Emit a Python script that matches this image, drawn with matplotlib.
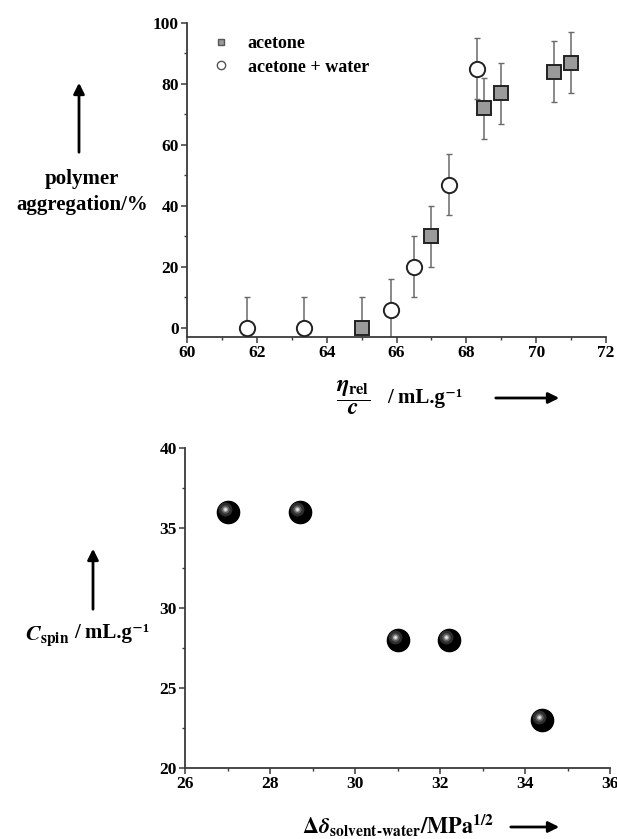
import matplotlib
matplotlib.use("Agg")
import matplotlib.pyplot as plt
import matplotlib.transforms as mtransforms
from matplotlib.lines import Line2D
from matplotlib.ticker import MultipleLocator

plt.rcParams["font.family"] = ["Liberation Serif", "DejaVu Serif"]
plt.rcParams["font.weight"] = "bold"
plt.rcParams["mathtext.fontset"] = "stix"

# top panel: aggregation vs reduced viscosity
acetone_x = [65.0, 67.0, 68.5, 69.0, 70.5, 71.0]
acetone_y = [0, 30, 72, 77, 84, 87]
acetone_err = [10, 10, 10, 10, 10, 10]

water_x = [61.73, 63.36, 65.85, 66.5, 67.5, 68.3]
water_y = [0, 0, 6, 20, 47, 85]
water_err = [10, 10, 10, 10, 10, 10]

# bottom panel: spinning concentration vs solubility parameter difference
delta_x = [27.0, 28.7, 31.0, 32.2, 34.4]
cspin_y = [36, 36, 28, 28, 23]

W, H = 617, 839
SPINE = "#3a3a3a"
TICK_SIZE = 12.5
UNIT = "/ mL.g\u207b\u00b9"


def fx(px):
    return px / W


def fy(py):
    return 1 - py / H


def style_axes(ax):
    for side in ("top", "right"):
        ax.spines[side].set_visible(False)
    for side in ("left", "bottom"):
        ax.spines[side].set_color(SPINE)
        ax.spines[side].set_linewidth(1.3)
    ax.tick_params(which="major", direction="out", length=4, width=1.1,
                   color=SPINE, labelsize=TICK_SIZE, pad=2)
    ax.tick_params(which="minor", direction="out", length=2.5, width=1.0,
                   color=SPINE)
    for lab in ax.get_xticklabels() + ax.get_yticklabels():
        lab.set_fontweight("bold")


def fig_arrow(fig, x0, y0, x1, y1):
    fig.add_artist(matplotlib.patches.FancyArrowPatch(
        (fx(x0), fy(y0)), (fx(x1), fy(y1)), transform=fig.transFigure,
        arrowstyle="-|>", mutation_scale=16, lw=2.0, color="black"))


fig = plt.figure(figsize=(W / 100, H / 100), dpi=100)

# ---- top panel
ax1 = fig.add_axes([fx(187), fy(337), fx(606) - fx(187), fy(23) - fy(337)])
ax1.errorbar(water_x, water_y, yerr=water_err, fmt="none", ecolor="#6a6a6a",
             elinewidth=1.1, capsize=2, capthick=1.0, zorder=2)
ax1.errorbar(acetone_x, acetone_y, yerr=acetone_err, fmt="none", ecolor="#6a6a6a",
             elinewidth=1.1, capsize=2, capthick=1.0, zorder=2)
ax1.plot(water_x, water_y, "o", ms=11, mfc="white", mec="#222222", mew=1.4,
         ls="none", zorder=3)
ax1.plot(acetone_x, acetone_y, "s", ms=10, mfc="#9a9a9a", mec="#222222", mew=1.4,
         ls="none", zorder=3)
ax1.set_xlim(60, 72)
ax1.set_ylim(-3, 100)
ax1.xaxis.set_major_locator(MultipleLocator(2))
ax1.xaxis.set_minor_locator(MultipleLocator(1))
ax1.yaxis.set_major_locator(MultipleLocator(20))
ax1.yaxis.set_minor_locator(MultipleLocator(10))
style_axes(ax1)

handles = [
    Line2D([], [], marker="s", ms=5, mfc="#9a9a9a", mec="#555555", mew=1.0, ls="none"),
    Line2D([], [], marker="o", ms=6, mfc="white", mec="#555555", mew=1.0, ls="none"),
]
ax1.legend(handles, ["acetone", "acetone + water"], loc="upper left",
           bbox_to_anchor=(0.02, 1.012), frameon=False, handlelength=1.0,
           handletextpad=1.0, labelspacing=0.35, prop={"size": 13, "weight": "bold"})

fig.text(fx(82), fy(192), "polymer\naggregation/%", ha="center", va="center",
         fontsize=15, fontweight="bold", linespacing=1.35)
fig_arrow(fig, 79, 155, 79, 80)

fig.text(fx(353), fy(398), r"$\dfrac{\boldsymbol{\eta}_{\mathbf{rel}}}{\boldsymbol{c}}$",
         ha="center", va="center", fontsize=17)
fig.text(fx(387), fy(398), UNIT, ha="left", va="center",
         fontsize=15, fontweight="bold")
fig_arrow(fig, 493, 398, 562, 398)

# ---- bottom panel
ax2 = fig.add_axes([fx(185), fy(768), fx(610) - fx(185), fy(448) - fy(768)])
ax2.plot(delta_x, cspin_y, "o", ms=16, mfc="black", mec="black", ls="none", zorder=3)
shine = [("#2e2e2e", 10), ("#5e5e5e", 6), ("#a8a8a8", 3.5), ("#eeeeee", 1.8)]
for color, size in shine:
    off = mtransforms.offset_copy(ax2.transData, fig=fig, x=-3, y=3, units="dots")
    ax2.plot(delta_x, cspin_y, "o", ms=size, mfc=color, mec="none", ls="none",
             zorder=4, transform=off)
ax2.set_xlim(26, 36)
ax2.set_ylim(20, 40)
ax2.xaxis.set_major_locator(MultipleLocator(2))
ax2.xaxis.set_minor_locator(MultipleLocator(1))
ax2.yaxis.set_major_locator(MultipleLocator(5))
ax2.yaxis.set_minor_locator(MultipleLocator(2.5))
style_axes(ax2)

fig.text(fx(70), fy(636), r"$\boldsymbol{C}_{\mathbf{spin}}$",
         ha="right", va="center", fontsize=16)
fig.text(fx(74), fy(633), UNIT, ha="left", va="center",
         fontsize=15, fontweight="bold")
fig_arrow(fig, 93, 612, 93, 546)

fig.text(fx(398), fy(826),
         r"$\mathbf{\Delta}\boldsymbol{\delta}_{\mathbf{solvent\text{-}water}}\mathbf{/MPa}^{\mathbf{1/2}}$",
         ha="center", va="center", fontsize=16)
fig_arrow(fig, 508, 827, 562, 827)

fig.savefig("out.png", dpi=100)
